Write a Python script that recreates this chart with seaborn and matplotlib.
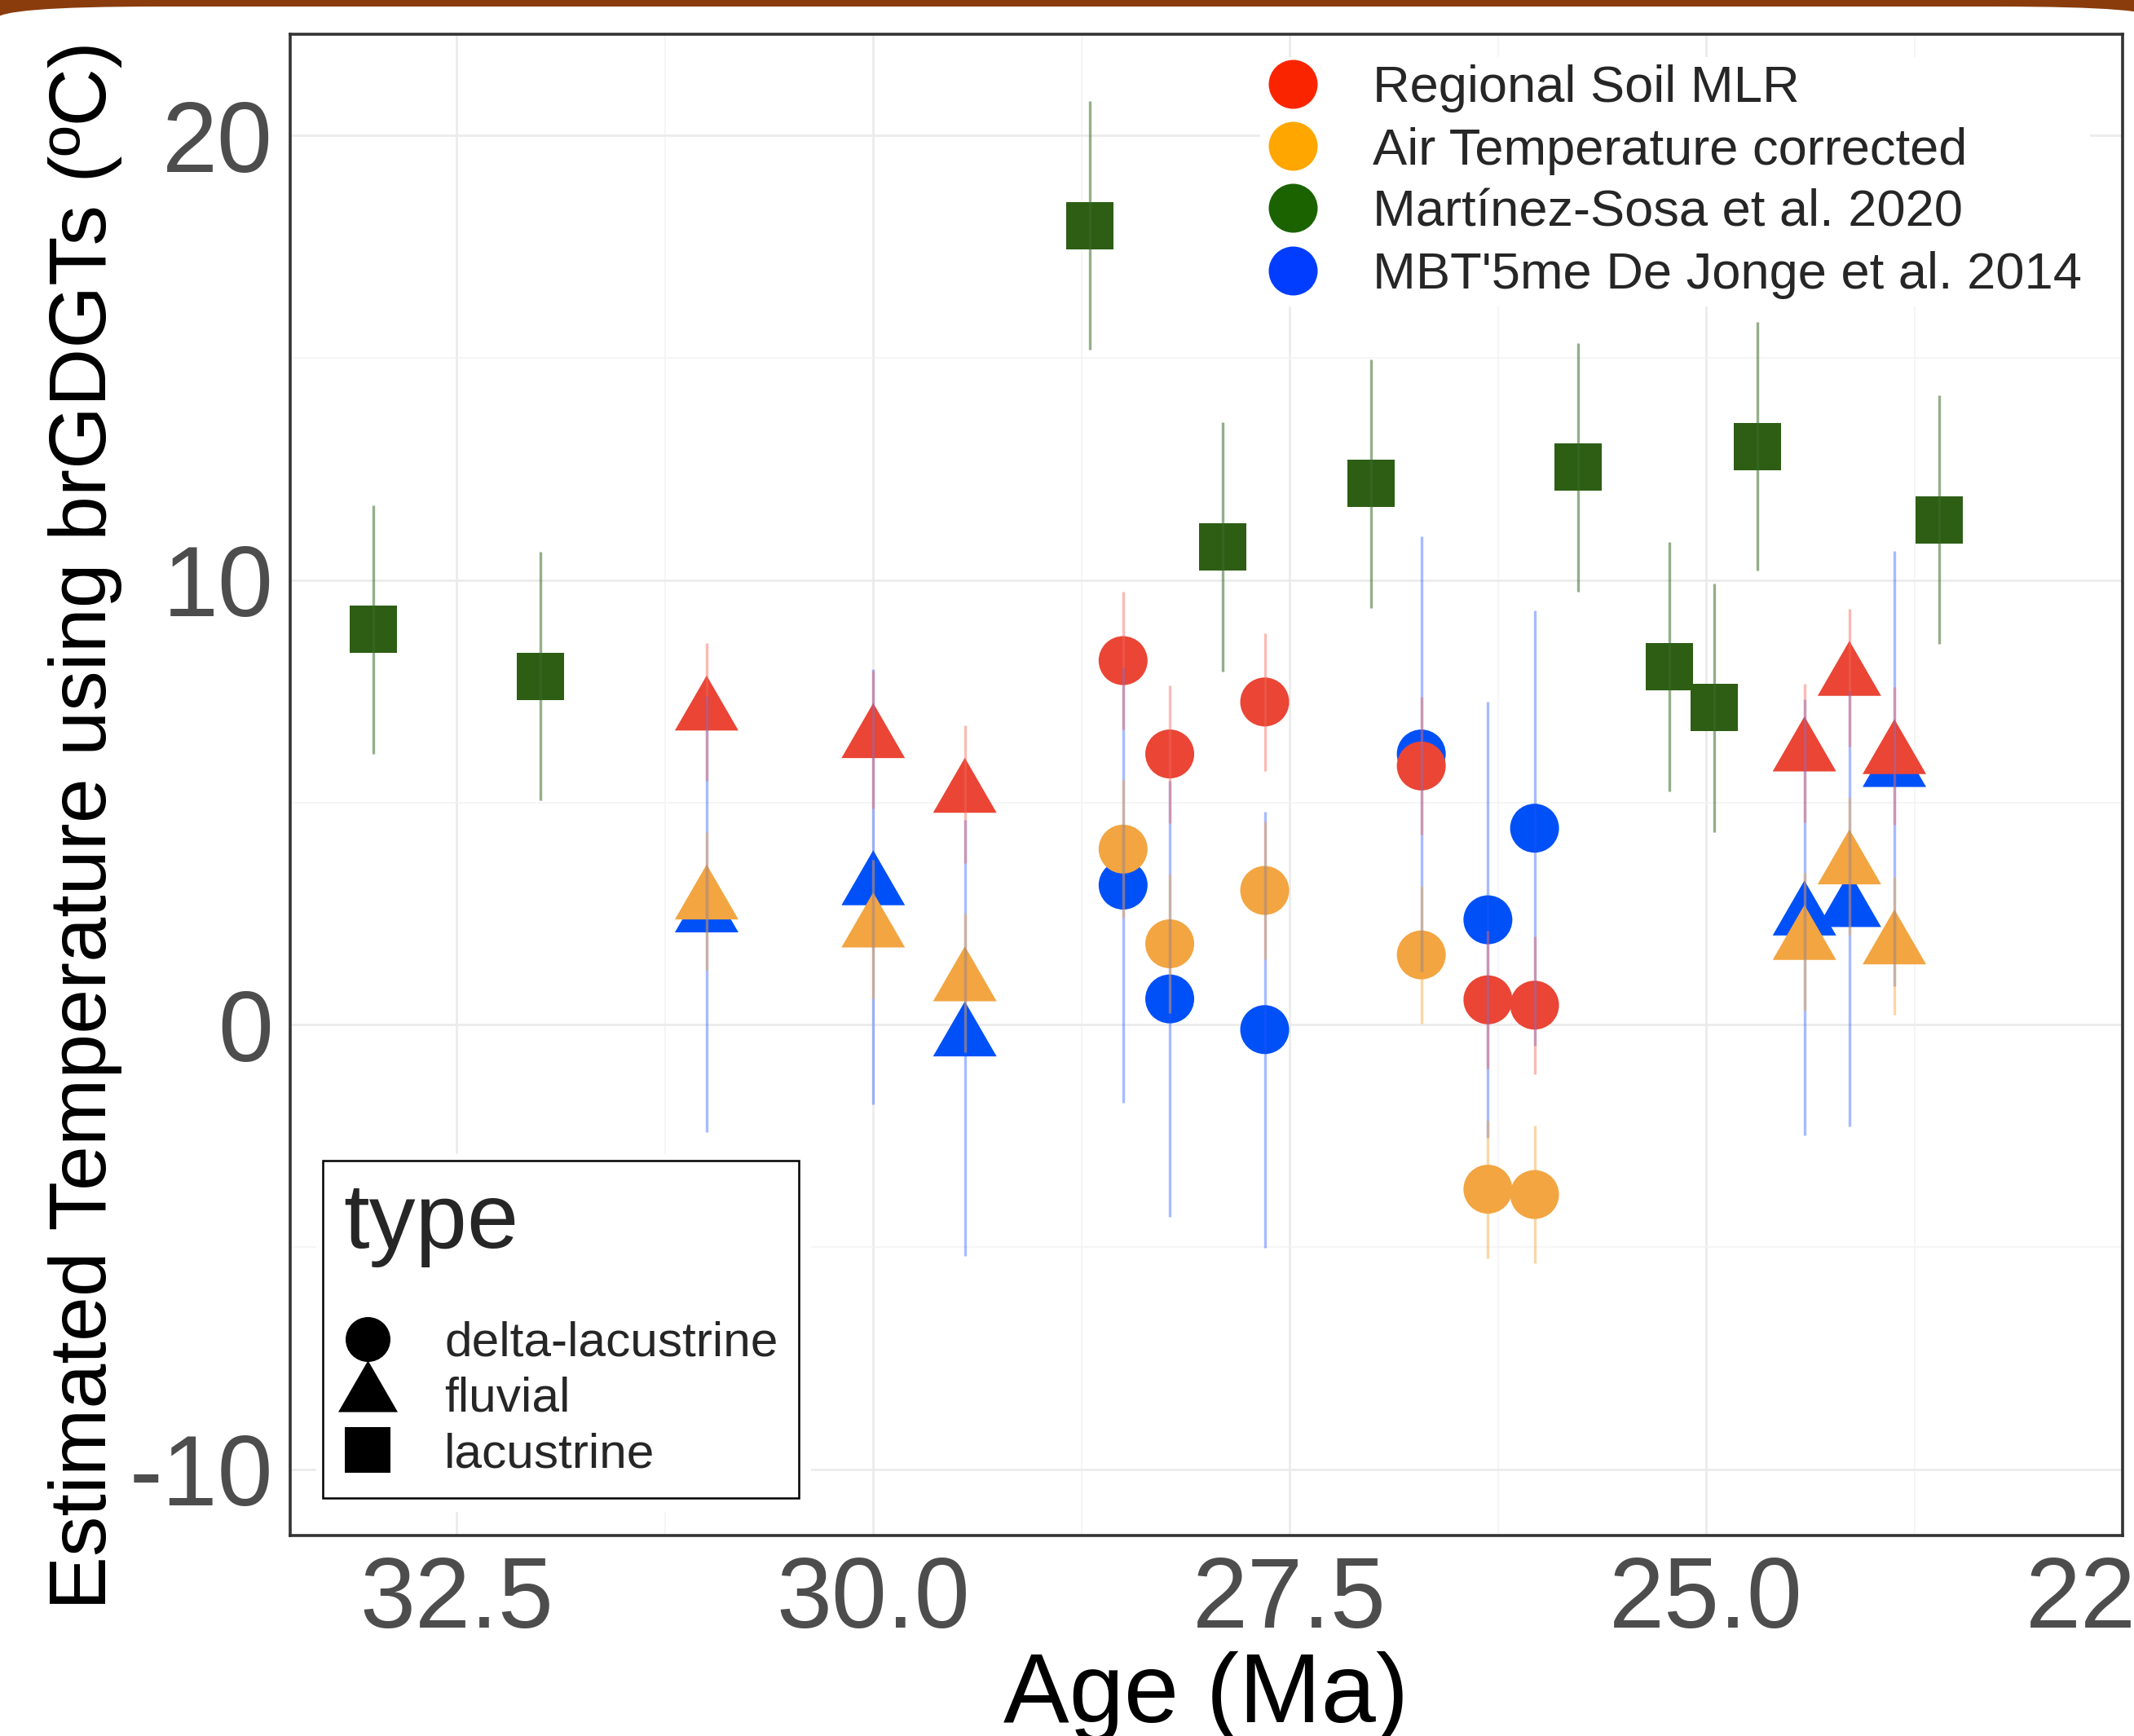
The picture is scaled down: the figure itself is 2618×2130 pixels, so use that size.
import numpy as np
import pandas as pd
import matplotlib
matplotlib.use("Agg")
import matplotlib.pyplot as plt
import seaborn as sns
from matplotlib.path import Path
from matplotlib.lines import Line2D
from matplotlib.patches import FancyBboxPatch, Rectangle

sns.set_style("white")
plt.rcParams["font.family"] = ["Liberation Sans", "DejaVu Sans"]

# ---------------- data ----------------
methods = ["Regional Soil MLR", "Air Temperature corrected",
           "Martínez-Sosa et al. 2020", "MBT'5me De Jonge et al. 2014"]
types = ["delta-lacustrine", "fluvial", "lacustrine"]

# lacustrine samples (only Martínez-Sosa calibration)
lake_age = [33.0, 32.0, 28.7, 27.9, 27.01, 25.77, 25.22, 24.95, 24.69, 23.6]
martinez_sosa = [8.89, 7.84, 17.98, 10.75, 12.17, 12.54, 8.05, 7.13, 13.01, 11.36]

# delta-lacustrine and fluvial samples
site_age = [31.0, 30.0, 29.45, 28.5, 28.22, 27.65, 26.71, 26.31, 26.03, 24.41, 24.14, 23.87]
site_type = ["fluvial", "fluvial", "fluvial",
             "delta-lacustrine", "delta-lacustrine", "delta-lacustrine",
             "delta-lacustrine", "delta-lacustrine", "delta-lacustrine",
             "fluvial", "fluvial", "fluvial"]
regional_soil_mlr = [7.03, 6.41, 5.18, 8.19, 6.09, 7.26, 5.82, 0.56, 0.44, 6.11, 7.81, 6.05]
air_temp_corrected = [2.78, 2.15, 0.94, 3.95, 1.82, 3.02, 1.57, -3.70, -3.82, 1.87, 3.57, 1.77]
mbt5me = [2.49, 3.10, -0.30, 3.14, 0.58, -0.11, 6.09, 2.36, 4.42, 2.42, 2.61, 5.76]

# calibration errors (half-length of the bars)
err_regional = 1.55
err_air = 1.55
err_martinez = 2.8
err_mbt = 4.9

x_ticks = [32.5, 30.0, 27.5, 25.0, 22.5]
x_tick_labels = ["32.5", "30.0", "27.5", "25.0", "22.5"]
y_ticks = [-10, 0, 10, 20]
y_tick_labels = ["-10", "0", "10", "20"]

# ---------------- styling ----------------
point_colors = {methods[0]: "#EA4535", methods[1]: "#F2A541",
                methods[2]: "#2D5E14", methods[3]: "#0050F8"}
legend_colors = {methods[0]: "#FA2500", methods[1]: "#FFA600",
                 methods[2]: "#1A6300", methods[3]: "#003DFF"}
bar_colors = {methods[0]: "#F5675A", methods[1]: "#F7A53A",
              methods[2]: "#3D6E2A", methods[3]: "#2255FF"}
bar_alpha = {methods[0]: 0.45, methods[1]: 0.45, methods[2]: 0.55, methods[3]: 0.4}

# triangle with its centroid at the origin (as R's pch 17)
tri_path = Path([(0, 1), (-0.866, -0.5), (0.866, -0.5), (0, 1)], closed=True)
marker_map = {"delta-lacustrine": "o", "fluvial": tri_path, "lacustrine": "s"}
size_map = {"delta-lacustrine": 1866, "fluvial": 4199, "lacustrine": 1744}

# long table, drawing order: blue, red, orange, green
frames = []
for m, vals in [(methods[3], mbt5me), (methods[0], regional_soil_mlr),
                (methods[1], air_temp_corrected)]:
    frames.append(pd.DataFrame({"age": site_age, "temp": vals,
                                "type": site_type, "method": m}))
frames.append(pd.DataFrame({"age": lake_age, "temp": martinez_sosa,
                            "type": "lacustrine", "method": methods[2]}))
df = pd.concat(frames, ignore_index=True)

W, H = 2618, 2130
fig = plt.figure(figsize=(W / 100, H / 100), dpi=100)
fig.patch.set_facecolor("white")

# brown window frame with rounded top
brown = Rectangle((0, (H - 40) / 100), W / 100, 0.4, transform=fig.dpi_scale_trans,
                  facecolor="#8A3C0C", edgecolor="none", zorder=-2)
white = FancyBboxPatch((-5 / 100, -1.0), (W + 35) / 100, (H - 8) / 100 + 1.0,
                       boxstyle="round,pad=0,rounding_size=2.0", mutation_aspect=0.08,
                       transform=fig.dpi_scale_trans, facecolor="white",
                       edgecolor="none", zorder=-1)
fig.patches.extend([brown, white])

def fx(px):
    return px / W

def fy(py):
    return 1 - py / H

ax_l, ax_r, ax_t, ax_b = 356, 2604, 42, 1884
ax = fig.add_axes([fx(ax_l), fy(ax_b), (ax_r - ax_l) / W, (ax_b - ax_t) / H])
ax.set_facecolor("white")

sns.scatterplot(data=df, x="age", y="temp", hue="method", style="type", size="type",
                palette=point_colors, markers=marker_map, sizes=size_map,
                hue_order=methods, style_order=types, size_order=types,
                legend=False, linewidth=0, edgecolor="none", ax=ax, zorder=3)

for m, xs, ys, e in [(methods[3], site_age, mbt5me, err_mbt),
                     (methods[0], site_age, regional_soil_mlr, err_regional),
                     (methods[1], site_age, air_temp_corrected, err_air),
                     (methods[2], lake_age, martinez_sosa, err_martinez)]:
    ax.errorbar(xs, ys, yerr=e, fmt="none", ecolor=bar_colors[m], alpha=bar_alpha[m],
                elinewidth=2.4, capsize=0, zorder=4)

ax.set_xlim(33.5, 22.5)
ax.set_ylim(-11.49, 22.28)
ax.set_xticks(x_ticks)
ax.set_xticklabels(x_tick_labels)
ax.set_xticks([31.25, 28.75, 26.25, 23.75], minor=True)
ax.set_yticks(y_ticks)
ax.set_yticklabels(y_tick_labels)
ax.set_yticks([-5, 5, 15], minor=True)
ax.grid(which="major", color="#EBEBEB", lw=1.9, zorder=0)
ax.grid(which="minor", color="#F3F3F3", lw=1.1, zorder=0)
ax.set_axisbelow(True)
ax.tick_params(which="major", length=8, width=2.2, color="#4D4D4D",
               labelsize=88, labelcolor="#4D4D4D")
ax.tick_params(axis="x", pad=9)
ax.tick_params(axis="y", pad=7)
ax.tick_params(which="minor", length=0)
for s in ax.spines.values():
    s.set_color("#333333")
    s.set_linewidth(2.6)

ax.set_xlabel("Age (Ma)", fontsize=87, color="black")
ax.xaxis.set_label_coords(0.5, (ax_b - 2026) / (ax_b - ax_t))
ax.set_ylabel("Estimated Temperature using brGDGTs (ºC)", fontsize=71.2, color="black")
ax.yaxis.set_label_coords((150 - ax_l) / (ax_r - ax_l), (ax_b - 1013) / (ax_b - ax_t))

# colour legend
col_handles = [Line2D([], [], ls="none", marker="o", markersize=43.2,
                      markerfacecolor=legend_colors[m], markeredgewidth=0) for m in methods]
leg1 = ax.legend(col_handles, methods, loc="upper left",
                 bbox_to_anchor=(fx(1546), fy(70)), bbox_transform=fig.transFigure,
                 borderaxespad=0, frameon=True, fancybox=False, facecolor="white",
                 edgecolor="none", framealpha=1, fontsize=45.5, borderpad=0.15,
                 labelspacing=0.27, handlelength=0.98, handletextpad=1.06)
ax.add_artist(leg1)

# shape legend
shape_handles = [
    Line2D([], [], ls="none", marker="o", markersize=39.6, markerfacecolor="black",
           markeredgewidth=0),
    Line2D([], [], ls="none", marker=tri_path, markersize=60.7, markerfacecolor="black",
           markeredgewidth=0),
    Line2D([], [], ls="none", marker="s", markersize=40.3, markerfacecolor="black",
           markeredgewidth=0),
]
bg = Rectangle((fx(388), fy(1855)), fx(995) - fx(388), fy(1416) - fy(1855),
               transform=fig.transFigure, facecolor="white", edgecolor="none", zorder=5)
ax.add_artist(bg)
bg.set_clip_on(False)
leg2 = ax.legend(shape_handles, types, loc="upper left",
                 bbox_to_anchor=(fx(396), fy(1424)), bbox_transform=fig.transFigure,
                 borderaxespad=0, frameon=True, fancybox=False, facecolor="white",
                 edgecolor="black", framealpha=1, fontsize=43.5, title="type",
                 title_fontsize=82, alignment="left", borderpad=0.42,
                 labelspacing=0.22, handlelength=0.98, handletextpad=1.07)
leg2.get_frame().set_linewidth(1.8)
leg2._legend_box.sep = 47
leg2.set_zorder(6)

fig.savefig("out.png", dpi=100)
